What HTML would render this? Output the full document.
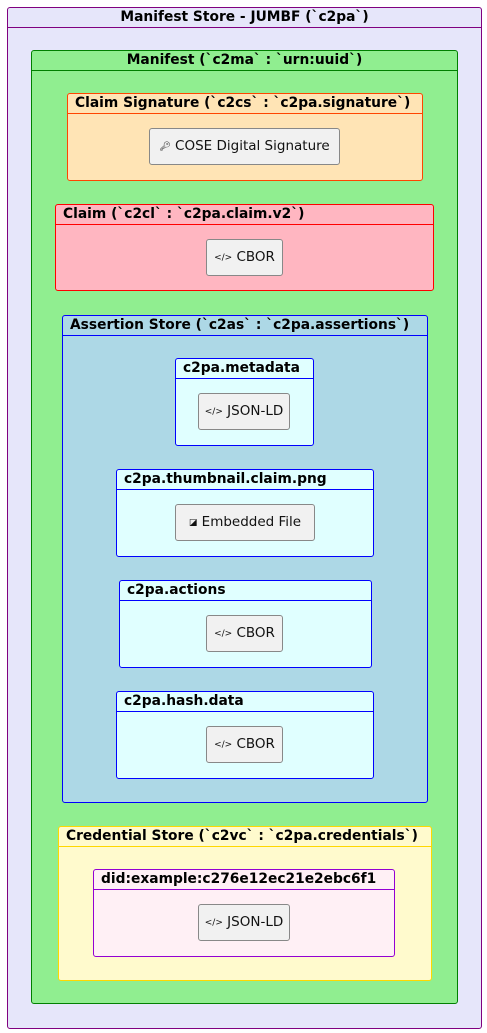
<!DOCTYPE html>
<html><head><meta charset="utf-8"><style>
*{box-sizing:border-box;margin:0;padding:0}
body{width:487px;height:1033px;background:#fff;position:relative;overflow:hidden;font-family:"DejaVu Sans","Liberation Sans",sans-serif}
.b{position:absolute;border:1px solid;border-radius:3px}
.h{position:absolute;left:0;right:0;top:0;height:20px;border-bottom:1px solid;font-weight:bold;font-size:13.8px;line-height:19px;padding-left:7px;white-space:nowrap;color:#000}
.c{text-align:center;padding-left:0}
.n{position:absolute;background:#f1f1f1;border:1px solid #888;border-radius:3px;font-size:13.5px;line-height:35px;text-align:center;color:#111;white-space:nowrap}
.i{font-size:9px;vertical-align:1px}
</style></head><body>
<div class="b" style="left:7px;top:7px;width:475px;height:1022px;background:#e6e6fa;border-color:#800080"><div class="h c" style="border-color:#800080">Manifest Store - JUMBF (`c2pa`)</div></div>
<div class="b" style="left:31px;top:50px;width:427px;height:954px;background:#90ee90;border-color:#008000"><div class="h c" style="border-color:#008000">Manifest (`c2ma` : `urn:uuid`)</div></div>

<div class="b" style="left:67px;top:93px;width:356px;height:88px;background:#ffe4b5;border-color:#ff4500"><div class="h" style="border-color:#ff4500">Claim Signature (`c2cs` : `c2pa.signature`)</div></div>
<div class="n" style="left:149px;top:128px;width:191px;height:37px"><span class="i">🔑︎</span> COSE Digital Signature</div>

<div class="b" style="left:55px;top:204px;width:379px;height:87px;background:#ffb6c1;border-color:#ff0000"><div class="h" style="border-color:#ff0000">Claim (`c2cl` : `c2pa.claim.v2`)</div></div>
<div class="n" style="left:206px;top:239px;width:77px;height:37px"><span class="i">&lt;/&gt;</span> CBOR</div>

<div class="b" style="left:62px;top:315px;width:366px;height:488px;background:#add8e6;border-color:#0000ff"><div class="h" style="border-color:#0000ff">Assertion Store (`c2as` : `c2pa.assertions`)</div></div>

<div class="b" style="left:175px;top:358px;width:139px;height:88px;background:#e0ffff;border-color:#0000ff"><div class="h" style="border-color:#0000ff">c2pa.metadata</div></div>
<div class="n" style="left:198px;top:393px;width:92px;height:37px"><span class="i">&lt;/&gt;</span> JSON-LD</div>

<div class="b" style="left:116px;top:469px;width:258px;height:88px;background:#e0ffff;border-color:#0000ff"><div class="h" style="border-color:#0000ff">c2pa.thumbnail.claim.png</div></div>
<div class="n" style="left:175px;top:504px;width:140px;height:37px"><span class="i">◪</span> Embedded File</div>

<div class="b" style="left:119px;top:580px;width:253px;height:88px;background:#e0ffff;border-color:#0000ff"><div class="h" style="border-color:#0000ff">c2pa.actions</div></div>
<div class="n" style="left:206px;top:615px;width:77px;height:37px"><span class="i">&lt;/&gt;</span> CBOR</div>

<div class="b" style="left:116px;top:691px;width:258px;height:88px;background:#e0ffff;border-color:#0000ff"><div class="h" style="border-color:#0000ff">c2pa.hash.data</div></div>
<div class="n" style="left:206px;top:726px;width:77px;height:37px"><span class="i">&lt;/&gt;</span> CBOR</div>

<div class="b" style="left:58px;top:826px;width:374px;height:155px;background:#fffacd;border-color:#ffd700"><div class="h" style="border-color:#ffd700">Credential Store (`c2vc` : `c2pa.credentials`)</div></div>
<div class="b" style="left:93px;top:869px;width:302px;height:88px;background:#fff0f5;border-color:#9400d3"><div class="h" style="border-color:#9400d3">did:example:c276e12ec21e2ebc6f1</div></div>
<div class="n" style="left:198px;top:904px;width:92px;height:37px"><span class="i">&lt;/&gt;</span> JSON-LD</div>
</body></html>
